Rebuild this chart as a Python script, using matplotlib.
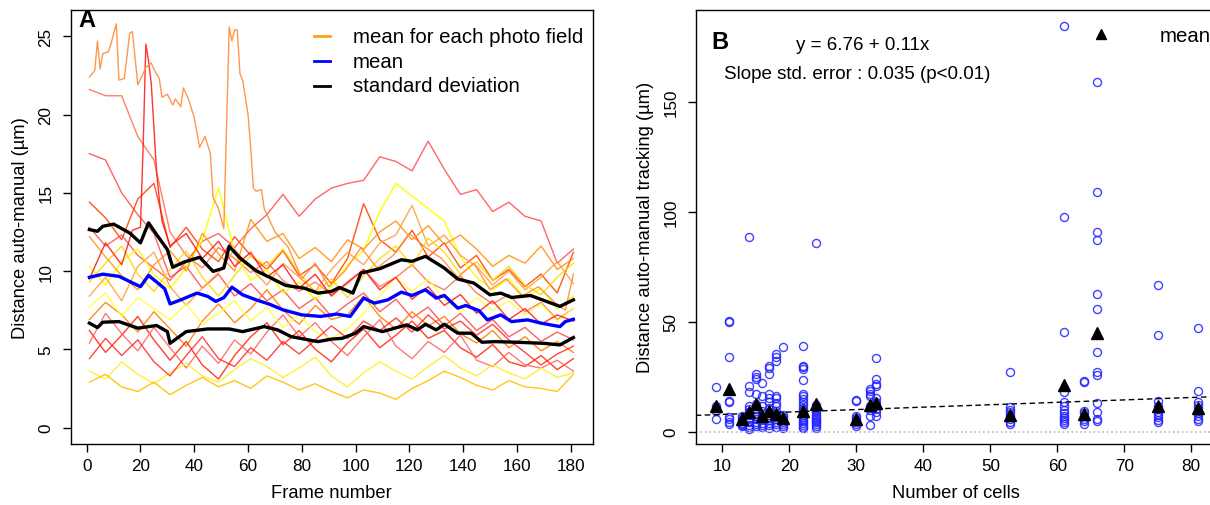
import numpy as np
import matplotlib.pyplot as plt

plt.rcParams['font.family'] = ['Liberation Sans', 'DejaVu Sans']
plt.rcParams['font.size'] = 12.3

W, H = 1210, 506

# ---------------- panel A data ----------------
frames = [1, 7, 13, 19, 25, 31, 37, 43, 49, 55, 61, 67, 73, 79, 85, 91,
          97, 103, 109, 115, 121, 127, 133, 139, 145, 151, 157, 163, 169, 175, 181]

# top orange field (own frames, sharp peaks)
f1_frames = [1, 3, 4, 5, 6, 8, 9, 11, 12, 14, 16, 17, 19, 22, 24, 25, 27, 28, 30, 32,
             33, 35, 36, 38, 40, 42, 44, 46, 47, 49, 51, 53, 54, 55, 56, 57, 58, 60,
             61, 62, 63, 65, 66, 70, 75, 80, 85, 90, 96, 102, 108, 114, 120, 126,
             132, 138, 144, 150, 156, 162, 168, 174, 178, 181]
f1_vals = [22.4, 22.8, 24.7, 22.9, 23.9, 24.0, 24.5, 25.8, 22.2, 22.3, 25.2, 25.3, 21.9,
           23.0, 23.3, 22.9, 22.3, 21.1, 21.3, 20.6, 21.0, 20.5, 21.7, 20.9, 19.8, 17.9,
           18.6, 17.5, 14.7, 14.0, 12.7, 25.6, 24.7, 25.4, 25.4, 22.6, 22.2, 20.0, 17.9,
           15.3, 15.1, 15.2, 14.0, 12.5, 11.5, 9.5, 10.5, 9.0, 10.0, 11.5, 10.2, 11.0,
           12.4, 11.5, 10.8, 9.6, 10.5, 8.8, 9.5, 8.4, 9.0, 8.0, 7.5, 9.8]

# red field with the spike near frame 22
f5_frames = [1, 7, 13, 17, 20, 21, 22, 23, 24, 25, 26, 27, 28, 31, 37, 43, 49, 55, 61,
             67, 73, 79, 85, 91, 97, 103, 109, 115, 121, 127, 133, 139, 145, 151, 157,
             163, 169, 175, 181]
f5_vals = [9.5, 11.8, 10.4, 12.6, 12.8, 18.0, 24.5, 23.4, 22.0, 19.2, 16.3, 14.6, 13.2,
           11.6, 12.4, 10.8, 11.9, 10.3, 11.2, 9.6, 10.4, 8.9, 9.8, 8.4, 9.3, 10.1, 8.8,
           9.6, 8.2, 9.0, 7.8, 8.5, 7.3, 8.1, 6.9, 7.6, 6.6, 7.2, 6.8]

f2 = [21.6, 21.2, 21.2, 18.6, 17.1, 12.5, 11.0, 10.2, 11.5, 10.8, 9.9, 10.6, 9.4, 8.7, 9.3, 8.5,
      9.2, 10.1, 9.0, 9.6, 10.4, 9.3, 8.8, 9.7, 8.6, 7.9, 8.5, 7.4, 8.0, 6.9, 7.6]
f3 = [17.5, 17.1, 15.0, 13.6, 12.4, 9.6, 10.3, 8.9, 9.8, 8.4, 9.2, 8.1, 8.8, 7.6, 8.3, 7.1,
      7.9, 8.6, 7.4, 8.2, 7.0, 7.7, 6.5, 7.3, 6.2, 6.9, 5.8, 6.4, 5.5, 6.1, 5.6]
f4 = [14.4, 13.4, 12.0, 14.6, 15.6, 11.5, 12.8, 11.4, 10.6, 12.2, 11.0, 10.1, 11.3, 9.7, 10.4, 9.2,
      10.8, 14.3, 12.0, 11.2, 12.6, 10.9, 11.8, 10.2, 11.0, 9.4, 10.1, 9.0, 9.8, 8.6, 11.2]
f6 = [12.8, 11.6, 12.3, 11.0, 10.2, 9.4, 10.6, 11.9, 12.4, 11.5, 12.7, 13.6, 14.9, 13.5, 14.6, 15.3,
      15.6, 15.8, 17.3, 17.0, 16.4, 18.3, 16.5, 14.9, 15.2, 13.8, 14.4, 13.5, 13.2, 10.5, 11.4]
f7 = [10.3, 9.1, 10.6, 11.4, 9.8, 8.9, 10.2, 12.0, 15.3, 11.2, 9.4, 10.1, 8.6, 9.3, 8.2, 9.0,
      10.4, 11.3, 13.8, 15.6, 14.8, 14.0, 13.2, 10.9, 9.6, 8.8, 9.5, 8.3, 8.9, 7.6, 8.4]
f8 = [8.4, 9.6, 8.1, 10.3, 11.2, 9.0, 7.8, 8.9, 9.9, 11.4, 10.2, 9.1, 10.5, 9.6, 8.7, 10.1,
      11.2, 10.4, 11.8, 12.3, 14.2, 11.6, 12.3, 11.0, 10.3, 9.1, 10.0, 8.8, 9.6, 10.6, 9.2]
f9 = [6.9, 8.0, 7.2, 6.1, 7.4, 6.3, 5.2, 6.8, 7.9, 6.7, 7.6, 8.8, 7.5, 6.6, 7.8, 6.9,
      7.2, 8.4, 7.1, 6.3, 7.4, 6.5, 7.1, 6.0, 5.4, 6.2, 5.1, 5.8, 4.9, 5.5, 4.8]
f10 = [9.3, 10.5, 11.6, 9.8, 8.7, 10.1, 11.3, 9.6, 8.4, 9.7, 11.0, 10.3, 11.4, 9.9, 8.6, 9.5,
       8.3, 9.7, 10.8, 11.6, 10.3, 12.1, 11.2, 9.8, 10.6, 9.4, 10.3, 9.1, 8.5, 9.6, 10.5]
f11 = [6.2, 4.8, 5.9, 7.1, 5.6, 4.3, 5.5, 4.0, 3.1, 4.6, 5.8, 6.7, 5.3, 6.2, 5.0, 4.2,
       5.4, 6.3, 5.1, 5.9, 6.8, 5.7, 6.2, 5.1, 4.5, 5.3, 4.2, 3.9, 4.6, 3.7, 4.4]
f12 = [5.4, 7.3, 6.0, 4.9, 6.4, 5.1, 3.8, 5.2, 4.1, 5.6, 4.7, 6.1, 7.2, 5.8, 6.7, 5.5,
       4.6, 5.8, 6.9, 5.2, 4.4, 5.5, 4.8, 5.9, 4.3, 3.9, 4.8, 4.0, 3.8, 4.3, 3.6]
f13 = [3.6, 3.1, 4.2, 3.4, 2.8, 3.5, 4.1, 3.3, 2.9, 3.7, 4.4, 3.9, 3.2, 3.8, 4.5, 3.3,
       2.6, 3.5, 4.2, 3.6, 3.1, 3.9, 4.6, 3.8, 3.3, 4.0, 3.5, 3.1, 3.8, 3.2, 3.5]
f14 = [2.9, 3.4, 2.6, 2.3, 2.9, 2.1, 2.7, 3.2, 2.6, 3.0, 2.5, 3.3, 2.9, 2.4, 2.8, 2.3,
       1.9, 2.4, 2.2, 1.8, 2.5, 3.0, 3.6, 3.2, 2.7, 2.4, 3.0, 2.6, 2.5, 2.3, 3.4]
f15 = [7.7, 8.6, 7.1, 8.3, 7.6, 6.9, 7.9, 6.6, 7.3, 8.1, 6.8, 7.7, 6.4, 7.2, 6.1, 5.7,
       6.3, 7.3, 8.4, 9.6, 8.7, 9.5, 8.2, 7.4, 8.3, 7.5, 8.1, 7.2, 7.9, 6.8, 7.6]
f16 = [12.2, 10.9, 9.7, 8.8, 10.4, 11.3, 10.0, 12.4, 11.1, 10.0, 13.3, 11.9, 12.4, 10.8, 11.5, 10.6,
       12.0, 11.4, 12.5, 13.2, 12.0, 12.9, 11.7, 12.3, 11.4, 10.3, 11.0, 10.5, 11.6, 10.1, 10.8]
f17 = [4.4, 5.7, 4.6, 5.6, 4.2, 3.3, 4.6, 5.8, 4.4, 3.9, 5.1, 4.3, 5.5, 4.7, 5.6, 6.5,
       5.7, 6.8, 6.2, 7.0, 6.1, 7.2, 6.3, 6.8, 5.9, 6.6, 5.6, 4.8, 4.0, 4.7, 5.2]

mean_frames = [1, 6, 12, 20, 23, 26, 29, 31, 35, 41, 45, 48, 51, 54, 58, 63, 68, 73, 80, 87,
               93, 98, 103, 107, 112, 117, 121, 126, 130, 133, 138, 141, 146, 149, 154, 158,
               164, 169, 176, 178, 181]
mean_vals = [9.6, 9.8, 9.66, 9.0, 9.72, 9.3, 8.87, 7.9, 8.16, 8.59, 8.38, 8.06, 8.3, 8.97, 8.48,
             8.16, 7.88, 7.52, 7.2, 7.1, 7.25, 7.1, 8.27, 7.95, 8.16, 8.65, 8.44, 8.8, 8.27, 8.44,
             7.63, 7.8, 7.46, 6.88, 7.2, 6.77, 6.88, 6.67, 6.45, 6.77, 6.92]

sd_hi_frames = [1, 4, 6, 10, 16, 20, 23, 26, 30, 32, 36, 42, 47, 51, 53, 57, 63, 68, 74, 81,
                86, 91, 94, 99, 102, 109, 117, 121, 126, 133, 138, 144, 150, 154, 158, 165,
                171, 176, 181]
sd_hi_vals = [12.65, 12.54, 12.86, 13.0, 12.43, 11.8, 13.08, 12.33, 11.37, 10.24, 10.56, 10.88,
              9.98, 10.19, 11.58, 10.83, 10.02, 9.6, 9.08, 8.9, 8.59, 8.7, 8.95, 8.59, 9.87,
              10.15, 10.72, 10.62, 10.94, 10.19, 9.49, 9.23, 8.48, 8.59, 8.31, 8.44, 8.06,
              7.74, 8.16]

sd_lo_frames = [1, 4, 6, 12, 19, 26, 30, 31, 37, 45, 53, 58, 66, 71, 76, 86, 91, 95, 100, 103,
                110, 119, 123, 126, 130, 133, 138, 143, 147, 152, 160, 170, 176, 181]
sd_lo_vals = [6.67, 6.39, 6.73, 6.77, 6.35, 6.52, 6.13, 5.38, 6.13, 6.3, 6.3, 6.13, 6.45, 6.24,
              5.81, 5.49, 5.65, 5.7, 6.03, 6.45, 6.13, 6.56, 6.24, 6.6, 6.24, 6.6, 6.03, 6.03,
              5.45, 5.49, 5.45, 5.38, 5.28, 5.75]

# ---------------- panel B data ----------------
cells = [9, 11, 13, 14, 15, 16, 17, 18, 19, 22, 24, 30, 32, 33, 53, 61, 64, 66, 75, 81]
dist_by_cells = [
    [20.5, 11.8, 10.6, 9.5, 5.8],
    [50.5, 49.8, 33.8, 14.1, 13.3, 6.5, 5.8, 4.5, 3.5],
    [7.3, 6.2, 5.4, 4.8, 4.1, 3.6, 3.0, 2.4],
    [88.6, 20.9, 17.9, 11.8, 10.2, 8.8, 7.4, 6.1, 5.0, 4.2, 3.1, 2.3, 1.4],
    [26.2, 25.0, 23.9, 17.1, 12.6, 10.4, 8.7, 7.2, 5.8, 4.6, 3.5, 2.6],
    [22.1, 16.4, 11.8, 9.6, 8.0, 6.6, 5.2, 4.1, 3.2, 2.2],
    [30.0, 28.8, 26.2, 17.1, 15.2, 13.3, 10.6, 9.1, 7.7, 6.4, 5.2, 4.0, 3.0, 1.9],
    [35.3, 33.8, 32.3, 16.4, 15.2, 13.1, 11.7, 9.6, 8.1, 6.9, 5.6, 4.4, 3.3, 2.3],
    [38.3, 7.8, 6.6, 5.6, 4.6, 3.6, 2.7, 1.9],
    [38.8, 30.0, 29.2, 28.5, 23.6, 17.1, 16.4, 14.8, 13.5, 12.2, 11.0, 9.8, 8.7, 7.6, 6.6,
     5.6, 4.7, 3.8, 3.0, 2.2, 1.5],
    [85.6, 12.0, 10.9, 9.8, 8.8, 7.8, 6.8, 5.9, 5.0, 4.2, 3.4, 2.6, 1.9],
    [14.5, 13.8, 7.3, 6.3, 5.3, 4.4, 3.5, 2.7],
    [19.4, 18.6, 17.1, 16.4, 11.8, 10.0, 7.3, 3.2],
    [33.5, 23.9, 21.7, 20.9, 15.2, 13.3, 11.6, 10.3, 8.8, 7.3],
    [27.3, 11.1, 9.8, 8.8, 7.6, 6.7, 5.8, 4.6, 3.5],
    [184.5, 97.7, 45.2, 17.9, 13.3, 11.5, 9.8, 8.5, 7.3, 6.2, 5.1, 4.3, 3.5],
    [23.2, 22.4, 9.5, 8.3, 7.1, 5.8, 4.7, 3.5],
    [159.0, 108.8, 90.9, 87.3, 62.6, 55.8, 36.1, 27.0, 25.8, 12.9, 8.8, 5.8, 5.0],
    [66.8, 44.1, 14.1, 11.8, 10.4, 9.0, 7.8, 6.6, 5.5, 4.4],
    [47.0, 18.6, 13.3, 12.0, 10.8, 9.6, 8.4, 7.2, 6.0, 5.0],
]
mean_by_cells = [11.5, 19.4, 5.7, 8.8, 12.6, 7.0, 9.6, 8.0, 6.2, 9.6, 12.6, 5.7, 12.2, 13.0,
                 7.6, 21.2, 8.0, 44.7, 11.8, 10.7]
fit_intercept = 6.76
fit_slope = 0.11

# ---------------- figure ----------------
fig = plt.figure(figsize=(W / 100, H / 100), dpi=100)

def box(x0, x1, y0, y1):
    return [x0 / W, 1 - y1 / H, (x1 - x0) / W, (y1 - y0) / H]

axA = fig.add_axes(box(70.7, 593, 11, 444.5))
axB = fig.add_axes(box(695.7, 1217, 11, 444.5))

field_lines = [(frames, f2, '#FF6A4A', 0.85), (frames, f3, '#FF3A3A', 0.8),
               (frames, f4, '#FF4500', 0.9), (frames, f6, '#FF4040', 0.8),
               (frames, f7, '#FFFF00', 1.0), (frames, f8, '#FFA040', 0.9),
               (frames, f9, '#FF8000', 0.9), (frames, f10, '#FFD700', 0.9),
               (frames, f11, '#FF2000', 0.85), (frames, f12, '#FF6060', 0.85),
               (frames, f13, '#FFEE30', 0.95), (frames, f14, '#FFC000', 0.9),
               (frames, f15, '#FFFF40', 0.95), (frames, f16, '#FF9000', 0.85),
               (frames, f17, '#FF1A1A', 0.8), (f5_frames, f5_vals, '#FF1010', 0.85),
               (f1_frames, f1_vals, '#FF8C3A', 0.9)]
for fx, fy, c, a in field_lines:
    axA.plot(fx, fy, color=c, alpha=a, lw=1.0)

axA.plot(mean_frames, mean_vals, color='#0000FF', lw=2.4)
axA.plot(sd_hi_frames, sd_hi_vals, color='black', lw=2.4)
axA.plot(sd_lo_frames, sd_lo_vals, color='black', lw=2.4)

axA.set_xlim(-5.95, 188.3)
axA.set_ylim(-1.02, 26.68)
axA.set_xticks(range(0, 181, 20))
axA.set_yticks(range(0, 26, 5))
axA.set_xlabel('Frame number', fontsize=13.2, labelpad=8)
axA.set_ylabel('Distance auto-manual (µm)', fontsize=13.2, labelpad=7)
axA.text(-3.0, 26.1, 'A', fontsize=17, fontweight='bold', ha='left', va='center')

# legend drawn by hand
leg = [('mean for each photo field', '#FFA020'), ('mean', '#0000FF'), ('standard deviation', 'black')]
for i, (lab, c) in enumerate(leg):
    yy = 25.0 - i * 1.58
    axA.plot([84.5, 90.5], [yy, yy], color=c, lw=2)
    axA.text(99, yy, lab, ha='left', va='center', fontsize=14.7)

# panel B
for cx, ys in zip(cells, dist_by_cells):
    axB.plot([cx] * len(ys), ys, 'o', mfc='none', mec='#2020FF', mew=1.0, ms=5.8,
             alpha=0.85, ls='none')
axB.plot(cells, mean_by_cells, '^', color='black', ms=8, ls='none')
axB.axline((0, fit_intercept), slope=fit_slope, color='black', ls='--', lw=1.0, dashes=(4, 2.5))
axB.axhline(0, color='#BBBBBB', ls=':', lw=1.2)

axB.set_xlim(6.03, 83.84)
axB.set_ylim(-5.36, 191.7)
axB.set_xticks(range(10, 81, 10))
axB.set_yticks([0, 50, 100, 150])
axB.set_xlabel('Number of cells', fontsize=13.2, labelpad=8)
axB.set_ylabel('Distance auto-manual tracking (µm)', fontsize=13.2, labelpad=7)
axB.text(8.3, 177.5, 'B', fontsize=17, fontweight='bold', ha='left', va='center')
axB.text(31.0, 176.2, 'y = 6.76 + 0.11x', ha='center', va='center', fontsize=13.5)
axB.text(10.2, 163.0, 'Slope std. error : 0.035 (p<0.01)', ha='left', va='center', fontsize=13.5)
axB.plot([66.6], [180.8], '^', color='black', ms=6.5)
axB.text(75.3, 179.9, 'mean', ha='left', va='center', fontsize=14.7)

for ax in (axA, axB):
    for s in ax.spines.values():
        s.set_linewidth(1.0)
    ax.tick_params(direction='out', length=5.5, width=1.0, labelsize=12.3)
    ax.tick_params(axis='x', pad=5)
    ax.tick_params(axis='y', pad=7)
    for t in ax.get_yticklabels():
        t.set_rotation(90)
        t.set_va('center')

fig.savefig('out.png', dpi=100)
